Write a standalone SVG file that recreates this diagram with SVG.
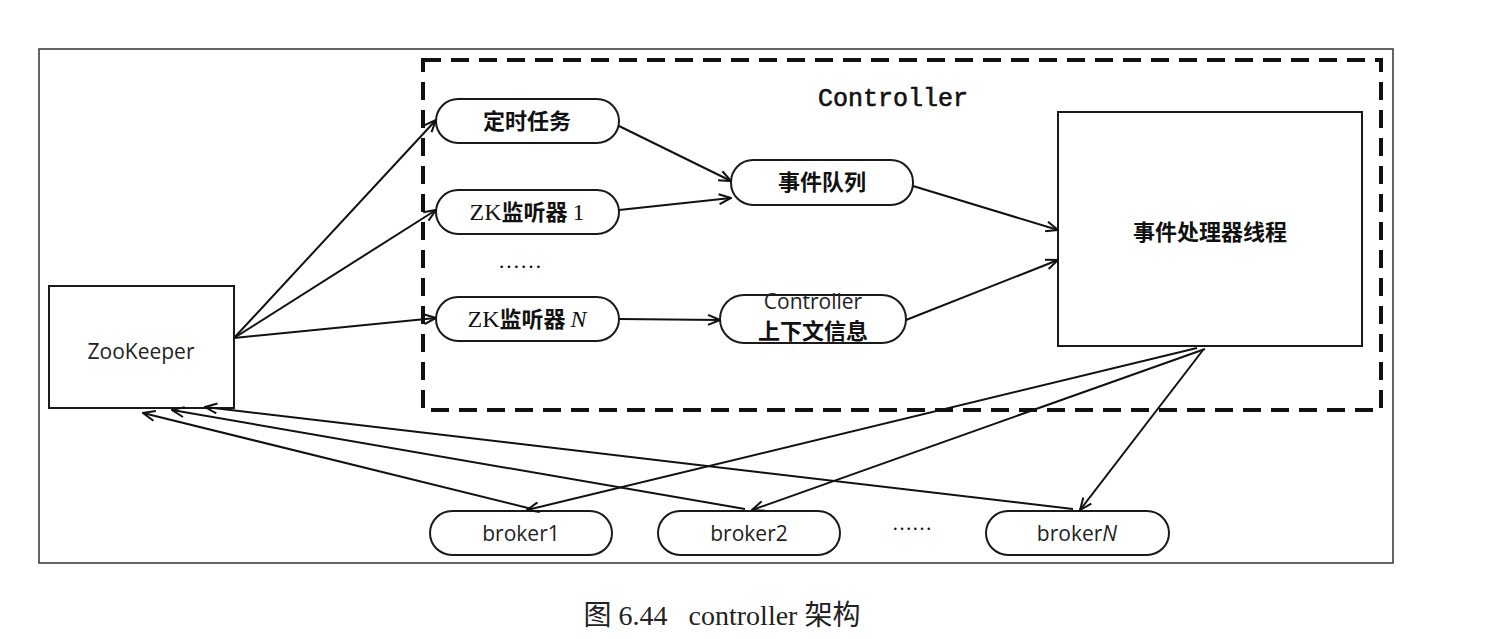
<svg xmlns="http://www.w3.org/2000/svg" width="1485" height="639" viewBox="0 0 1485 639">
<style>
.box{fill:#fff;stroke:#1a1a1a;stroke-width:2}
.outer{fill:none;stroke:#333;stroke-width:1.5}
.dash{fill:none;stroke:#111;stroke-width:4;stroke-dasharray:18 10}
.cn{font-family:"Noto Sans CJK SC",sans-serif;font-size:22px;font-weight:bold;fill:#111;text-anchor:middle}
.lat{font-family:"Open Sans","DejaVu Sans",sans-serif;font-size:21px;fill:#222;text-anchor:middle}
.ser{font-family:"Liberation Serif",serif;font-weight:normal;font-size:24px}
.conn line{stroke:#111;stroke-width:2;marker-end:url(#ah)}
</style>
<defs>
<marker id="ah" viewBox="0 0 14 12" refX="13" refY="6" markerWidth="14" markerHeight="12" markerUnits="userSpaceOnUse" orient="auto">
<path d="M1,1 L13,6 L1,11" fill="none" stroke="#111" stroke-width="2"/>
</marker>
</defs>
<rect width="1485" height="639" fill="#fff"/>
<rect class="outer" x="39" y="49" width="1354" height="514"/>
<g id="controller">
<rect class="dash" x="423" y="60" width="958" height="350"/>
<text x="893" y="106" font-family="Liberation Mono,monospace" font-size="25" fill="#111" stroke="#111" stroke-width="0.6" text-anchor="middle">Controller</text>
</g>
<g id="timer"><rect class="box" x="436" y="99" width="183" height="44" rx="22"/><text class="cn" x="527" y="129">定时任务</text></g>
<g id="zk1"><rect class="box" x="436" y="190" width="183" height="44" rx="22"/><text class="cn" x="527" y="220"><tspan class="ser">ZK</tspan>监听器 <tspan class="ser">1</tspan></text></g>
<text id="dots1" x="520" y="268" font-family="Liberation Serif,serif" font-size="22" fill="#111" text-anchor="middle">……</text>
<g id="zkn"><rect class="box" x="436" y="297" width="183" height="44" rx="22"/><text class="cn" x="527" y="327"><tspan class="ser">ZK</tspan>监听器 <tspan class="ser" font-style="italic">N</tspan></text></g>
<g id="queue"><rect class="box" x="731" y="160" width="182" height="45" rx="22"/><text class="cn" x="822" y="190">事件队列</text></g>
<g id="ctx"><rect class="box" x="720" y="295" width="186" height="48" rx="24"/><text class="lat" x="813" y="309" font-size="14">Controller</text><text class="cn" x="813" y="339" font-size="16">上下文信息</text></g>
<g id="handler"><rect class="box" x="1058" y="112" width="304" height="234"/><text class="cn" x="1210" y="240" font-size="23">事件处理器线程</text></g>
<g id="zookeeper"><rect class="box" x="49" y="286" width="185" height="122"/><text class="lat" x="141" y="359">ZooKeeper</text></g>
<g id="broker1"><rect class="box" x="430" y="511" width="182" height="44" rx="22"/><text class="lat" x="521" y="541">broker1</text></g>
<g id="broker2"><rect class="box" x="658" y="511" width="182" height="44" rx="22"/><text class="lat" x="749" y="541">broker2</text></g>
<text id="dots2" x="912" y="530" font-family="Liberation Serif,serif" font-size="20" fill="#111" text-anchor="middle">……</text>
<g id="brokerN"><rect class="box" x="986" y="511" width="183" height="44" rx="22"/><text class="lat" x="1077" y="541">broker<tspan font-style="italic">N</tspan></text></g>
<g id="connectors" class="conn">
<line x1="234" y1="338" x2="436" y2="120"/>
<line x1="234" y1="338" x2="436" y2="210"/>
<line x1="234" y1="338" x2="436" y2="318"/>
<line x1="619" y1="126" x2="731" y2="181"/>
<line x1="619" y1="210" x2="731" y2="198"/>
<line x1="619" y1="319" x2="720" y2="320"/>
<line x1="913" y1="186" x2="1058" y2="230"/>
<line x1="906" y1="320" x2="1058" y2="260"/>
<line x1="1197" y1="348" x2="527" y2="510"/>
<line x1="1205" y1="349" x2="752" y2="510"/>
<line x1="1203" y1="350" x2="1080" y2="510"/>
<line x1="532" y1="509" x2="143" y2="413"/>
<line x1="745" y1="509" x2="172" y2="410"/>
<line x1="1073" y1="509" x2="205" y2="407"/>
</g>
<text id="caption" x="722" y="625" xml:space="preserve" font-family="Liberation Serif,Noto Sans CJK SC,serif" font-size="28" fill="#222" text-anchor="middle">图 6.44   controller 架构</text>
</svg>
